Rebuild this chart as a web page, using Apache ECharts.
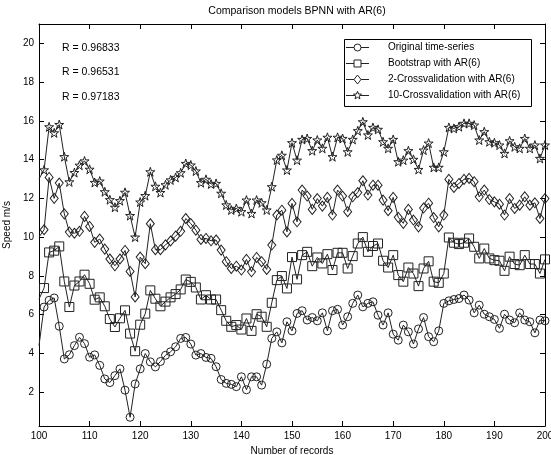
<!DOCTYPE html>
<html>
<head>
<meta charset="utf-8">
<script src="https://cdn.jsdelivr.net/npm/echarts@6/dist/echarts.min.js"></script>
<style>
  html, body { margin: 0; padding: 0; background: #fff; }
  #chart { width: 551px; height: 455px; }
</style>
</head>
<body>
<div id="chart"></div>
<script>
// record numbers 100..200
const firstRecord = 100;
const original = [
  4.4, 6.39, 6.74, 6.86, 5.4, 3.71, 3.93, 4.4, 4.83, 4.5,
  3.8, 3.92, 3.38, 2.68, 2.49, 2.85, 3.2, 2.1, 0.7, 2.42,
  3.2, 3.99, 3.56, 3.3, 3.58, 3.9, 4.08, 4.34, 4.77, 4.82,
  4.48, 3.91, 3.99, 3.79, 3.74, 3.31, 2.65, 2.45, 2.4, 2.28,
  2.79, 2.12, 2.79, 2.79, 2.36, 3.44, 4.77, 5.11, 4.54, 5.63,
  5.16, 6.06, 6.2, 5.72, 5.85, 5.68, 6.09, 5.16, 6.2, 6.27,
  5.46, 5.89, 6.58, 7.01, 6.4, 6.58, 6.66, 5.97, 5.46, 6.09,
  4.99, 4.68, 5.46, 5.11, 4.48, 5.26, 5.85, 4.86, 4.6, 5.16,
  6.58, 6.71, 6.78, 6.83, 7.01, 6.75, 6.09, 6.49, 6.02, 5.89,
  5.75, 5.29, 6.02, 5.72, 5.58, 6.09, 5.72, 5.63, 5.06, 5.72,
  5.68
];
const bootstrap = [
  6.8, 7.37, 9.21, 9.3, 9.52, 7.71, 6.39, 7.5, 7.71, 8.06,
  7.59, 6.77, 6.89, 6.43, 5.77, 5.36, 5.81, 6.22, 5.02, 4.11,
  5.48, 6.05, 7.25, 6.82, 6.43, 6.67, 6.89, 7.06, 7.3, 7.81,
  7.69, 7.4, 6.78, 7.0, 6.78, 6.78, 6.23, 5.68, 5.37, 5.46,
  5.23, 5.8, 5.16, 6.02, 5.89, 5.37, 6.61, 7.78, 7.99, 7.35,
  8.97, 7.82, 9.07, 9.24, 8.5, 8.95, 8.64, 9.12, 8.3, 9.19,
  9.19, 8.38, 9.02, 9.67, 10.0, 9.24, 9.54, 9.67, 8.78, 8.43,
  9.07, 8.04, 7.7, 8.43, 8.12, 7.47, 8.38, 8.75, 7.7, 7.64,
  8.12, 9.98, 9.71, 9.64, 9.71, 9.93, 9.5, 8.9, 9.41, 8.9,
  8.81, 8.78, 8.26, 8.99, 8.61, 8.55, 9.07, 8.61, 8.61, 8.12,
  8.85
];
const cross2 = [
  10.0, 10.38, 13.08, 12.0, 12.79, 11.2, 10.26, 10.2, 10.3, 11.07,
  10.55, 9.73, 9.9, 9.38, 8.87, 8.52, 8.87, 9.31, 8.23, 6.91,
  8.97, 8.63, 10.69, 9.35, 9.35, 9.6, 9.8, 10.05, 10.3, 10.96,
  10.7, 10.36, 9.88, 9.93, 9.81, 9.85, 9.33, 8.73, 8.38, 8.5,
  8.3, 8.85, 8.21, 8.95, 8.73, 8.33, 9.59, 11.14, 11.39, 10.27,
  11.74, 10.79, 12.43, 12.12, 11.43, 11.99, 11.6, 12.05, 11.14, 12.43,
  12.12, 11.31, 12.08, 12.3, 12.91, 12.17, 12.68, 12.68, 11.91, 11.36,
  12.05, 11.02, 10.71, 11.43, 10.88, 10.53, 11.5, 11.75, 11.01, 10.53,
  11.14, 12.98, 12.56, 12.77, 12.98, 13.03, 12.86, 12.08, 12.43, 11.94,
  11.82, 11.7, 11.14, 11.99, 11.48, 11.65, 12.08, 11.65, 11.77, 10.96,
  11.99
];
const cross10 = [
  13.0, 13.47, 15.69, 15.38, 15.81, 14.15, 12.85, 13.33, 13.71, 13.93,
  13.5, 12.82, 12.89, 12.34, 11.93, 11.54, 11.88, 12.31, 11.11, 10.0,
  11.81, 12.14, 13.37, 12.62, 12.3, 12.7, 12.95, 13.08, 13.32, 13.8,
  13.72, 13.41, 12.81, 12.98, 12.74, 12.77, 12.26, 11.66, 11.4, 11.48,
  11.31, 11.91, 11.22, 11.91, 11.77, 11.4, 12.6, 13.98, 14.22, 13.46,
  14.87, 13.97, 15.04, 15.09, 14.46, 15.01, 14.58, 15.15, 14.15, 15.15,
  15.09, 14.4, 15.04, 15.49, 15.95, 15.27, 15.66, 15.56, 14.92, 14.58,
  15.04, 13.89, 13.97, 14.46, 14.01, 13.49, 14.49, 14.85, 13.6, 13.6,
  14.4, 15.66, 15.61, 15.7, 15.87, 15.87, 15.78, 15.01, 15.44, 14.92,
  14.87, 14.75, 14.32, 14.97, 14.66, 14.58, 15.09, 14.58, 14.75, 14.06,
  14.75
];
const seriesNames = [
  'Original time-series',
  'Bootstrap with AR(6)',
  '2-Crossvalidation with AR(6)',
  '10-Crossvalidation with AR(6)'
];
const rLabels = ['R = 0.96833', 'R = 0.96531', 'R = 0.97183'];
const yTicks = [2, 4, 6, 8, 10, 12, 14, 16, 18, 20];

const font = '"Liberation Sans", Arial, sans-serif';
const ink = '#222';
const star = 'path://M50 0L61.8 34.5L97.6 34.5L68.7 55.9L79.4 90.5L50 69.1L20.6 90.5L31.3 55.9L2.4 34.5L38.2 34.5Z';
const symbols = ['circle', 'rect', 'diamond', star];
const sizes = [8, 9, [8, 10], 9];

// first record sits on the axis edge: line only, no marker (as in the original plot)
function pairs(arr) {
  return arr.map((v, i) => i === 0
    ? { value: [firstRecord + i, v], symbol: 'none' }
    : [firstRecord + i, v]);
}

// legend drawn by hand, MATLAB style: short line, marker in the middle, text further right
function legendMarker(k, cx, cy) {
  const st = { fill: '#fff', stroke: ink, lineWidth: 1 };
  if (k === 0) return { type: 'circle', shape: { cx: cx, cy: cy, r: 3.5 }, style: st };
  if (k === 1) return { type: 'rect', shape: { x: cx - 3.5, y: cy - 3.5, width: 7, height: 7 }, style: st };
  if (k === 2) return { type: 'polygon', shape: { points: [[cx, cy - 4.5], [cx + 3.5, cy], [cx, cy + 4.5], [cx - 3.5, cy]] }, style: st };
  const pts = [];
  for (let j = 0; j < 10; j++) {
    const r = j % 2 ? 1.8 : 4.2;
    const a = -Math.PI / 2 + j * Math.PI / 5;
    pts.push([cx + r * Math.cos(a), cy + r * Math.sin(a)]);
  }
  return { type: 'polygon', shape: { points: pts }, style: st };
}

const legendBox = { x: 344.5, y: 39.5, w: 187, h: 67 };
const legendRows = seriesNames.map((name, k) => {
  const cy = 47.5 + k * 16;
  return [
    { type: 'rect', shape: { x: 346, y: cy - 0.5, width: 23, height: 1 }, style: { fill: ink }, z: 101 },
    Object.assign(legendMarker(k, 357.5, cy), { z: 102 }),
    { type: 'text', x: 388, y: cy, style: { text: name, font: '10px ' + font, fill: '#000', verticalAlign: 'middle' }, z: 101 }
  ];
}).flat();

const chart = echarts.init(document.getElementById('chart'));

const axisCommon = {
  axisLine: { lineStyle: { color: '#000', width: 1 } },
  axisTick: { inside: true, length: 5, lineStyle: { color: '#000' } },
  splitLine: { show: false }
};

chart.setOption({
  animation: false,
  backgroundColor: '#fff',
  textStyle: { fontFamily: font },
  title: {
    text: 'Comparison models BPNN with AR(6)',
    left: 292,
    top: 1,
    textAlign: 'center',
    textStyle: { fontSize: 10.5, fontWeight: 'normal', color: '#000', fontFamily: font }
  },
  grid: { left: 39, right: 6, top: 24, bottom: 29, outerBoundsMode: 'none' },
  graphic: [
    {
      type: 'rect',
      shape: { x: legendBox.x, y: legendBox.y, width: legendBox.w, height: legendBox.h },
      style: { fill: '#fff', stroke: '#000', lineWidth: 1 },
      z: 100
    }
  ].concat(legendRows).concat(rLabels.map((t, k) => ({
    type: 'text',
    x: 62,
    y: 48 + k * 24.5,
    style: { text: t, font: '10.5px ' + font, fill: '#000', verticalAlign: 'middle' }
  }))),
  xAxis: [
    Object.assign({}, axisCommon, {
      type: 'value', min: 100, max: 200, interval: 10,
      axisLabel: { color: '#000', fontSize: 10, margin: 5 },
      name: 'Number of records', nameLocation: 'middle', nameGap: 14,
      nameTextStyle: { color: '#000', fontSize: 10 }
    }),
    Object.assign({}, axisCommon, {
      type: 'value', position: 'top', min: 100, max: 200, interval: 10,
      axisLabel: { show: false }
    })
  ],
  yAxis: [
    Object.assign({}, axisCommon, {
      type: 'value', min: 0.25, max: 21,
      axisLabel: { color: '#000', fontSize: 10, margin: 5, customValues: yTicks },
      axisTick: { inside: true, length: 5, lineStyle: { color: '#000' }, customValues: yTicks },
      name: 'Speed m/s', nameLocation: 'middle', nameGap: 18,
      nameTextStyle: { color: '#000', fontSize: 10 }
    }),
    Object.assign({}, axisCommon, {
      type: 'value', position: 'right', min: 0.25, max: 21,
      axisLabel: { show: false, customValues: yTicks },
      axisTick: { inside: true, length: 5, lineStyle: { color: '#000' }, customValues: yTicks }
    })
  ],
  series: [original, bootstrap, cross2, cross10].map((arr, k) => ({
    name: seriesNames[k],
    type: 'line',
    data: pairs(arr),
    symbol: symbols[k],
    symbolSize: sizes[k],
    showAllSymbol: true,
    lineStyle: { color: ink, width: 1 },
    itemStyle: { color: 'rgba(255,255,255,0)', borderColor: ink, borderWidth: 1 },
    emphasis: { disabled: true }
  }))
});
</script>
</body>
</html>
